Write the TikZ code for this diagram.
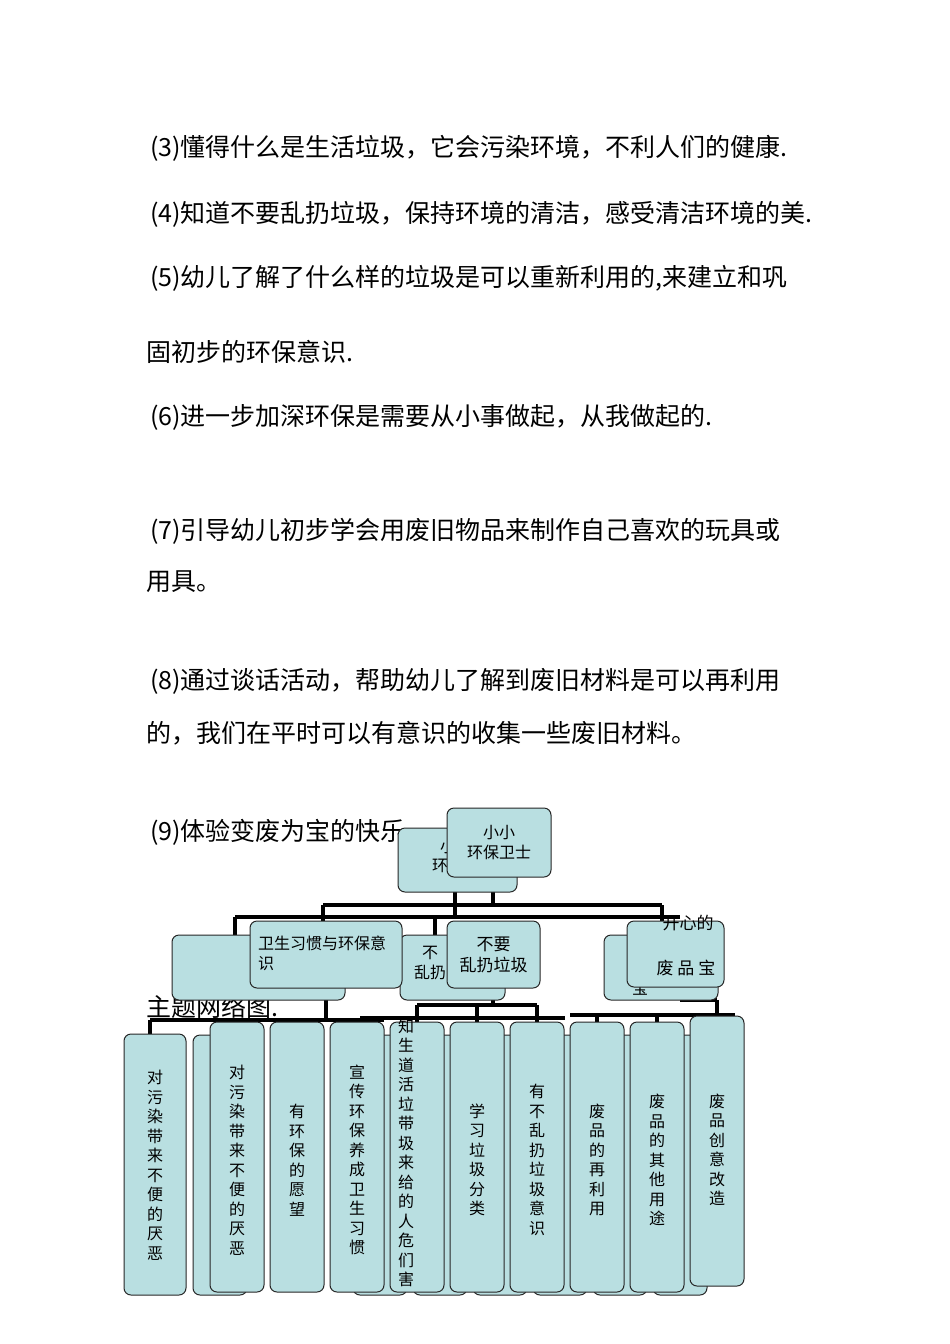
\documentclass[tikz,border=0pt]{standalone}
\usepackage{fontspec}
\setmainfont{Liberation Serif}
\newfontfamily\cjk{Noto Sans CJK SC}
\definecolor{boxc}{HTML}{B9DFE1}
\begin{document}
\begin{tikzpicture}[x=1pt,y=-1pt,
  bx/.style={draw=black!85,fill=boxc,rounded corners=7pt,line width=1pt,inner sep=0pt},
  body/.style={anchor=west,inner sep=0pt,font=\cjk\fontsize{25}{28}\selectfont},
  lab/.style={inner sep=0pt,align=center,font=\cjk\fontsize{16}{19.5}\selectfont},
  ln/.style={line width=3.5pt}]
\useasboundingbox (0,0) rectangle (950,1344);
% body text
\node[body] (t3) at (150,148) {(3)懂得什么是生活垃圾，它会污染环境，不利人们的健康.};
\node[body] (t4) at (150,214) {(4)知道不要乱扔垃圾，保持环境的清洁，感受清洁环境的美.};
\node[body] (t5) at (150,278) {(5)幼儿了解了什么样的垃圾是可以重新利用的,来建立和巩};
\node[body] (t5b) at (146,352) {固初步的环保意识.};
\node[body] (t6) at (150,417) {(6)进一步加深环保是需要从小事做起，从我做起的.};
\node[body] (t7) at (150,531) {(7)引导幼儿初步学会用废旧物品来制作自己喜欢的玩具或};
\node[body] (t7b) at (146,582) {用具。};
\node[body] (t8) at (150,681) {(8)通过谈话活动，帮助幼儿了解到废旧材料是可以再利用};
\node[body] (t8b) at (146,733) {的，我们在平时可以有意识的收集一些废旧材料。};
\node[body] (t9) at (150,832) {(9)体验变废为宝的快乐};
\node[body] (t10) at (146,1007) {主题网络图.};
% connectors (drawn first)
\draw[ln] (493,877) -- (493,905) (323,905) -- (662,905) (323,905) -- (323,921) (662,905)--(662,921);
\draw[ln] (455,892) -- (455,917) (235,917) -- (680,917) (235,917)--(235,935) (435,917)--(435,935);
\draw[ln] (326,988) -- (326,1020) (150,1020) -- (384,1020) (150,1020)--(150,1034) (237,1020)--(237,1022) (297,1020)--(297,1022) (357,1020)--(357,1022);
\draw[ln] (493,988) -- (493,1005) (360,1018) -- (565,1018) (417,1005)--(417,1022) (477,1005)--(477,1022) (537,1005)--(537,1022) (417,1005)--(537,1005);
\draw[ln] (680,987) -- (680,1000) (570,1015) -- (735,1015) (597,1015)--(597,1022) (657,1015)--(657,1022) (717,1000)--(717,1016) (680,1000)--(717,1000);
% ghost boxes
\node[bx,minimum width=119pt,minimum height=64pt] (g0) at (457.5,860) {};
\node[lab] at (448,856) {小\\环保};
\node[bx,minimum width=173pt,minimum height=65pt] (g1) at (258.5,967.5) {};
\node[bx,minimum width=105pt,minimum height=65pt] (g2) at (452.5,967.5) {};
\node[lab] at (430,963) {不\\乱扔};
\node[bx,minimum width=114pt,minimum height=65pt] (g3) at (661,967.5) {};
\node[lab] at (640,988) {宝};
\foreach \x in {193,353,413,473,533,593,653}{
  \node[bx,minimum width=54pt,minimum height=260pt] at (\x+27,1165) {};}
% root
\node[bx,minimum width=104pt,minimum height=69pt,lab] (root) at (499,842.5) {小小\\环保卫士};
% level 2
\node[bx,minimum width=152pt,minimum height=67pt] (A) at (326,954.5) {};
\node[lab,anchor=north west,align=left,text width=140pt] at (258,936) {卫生习惯与环保意\\识};
\node[bx,minimum width=93pt,minimum height=67pt,lab,font=\cjk\fontsize{17}{21}\selectfont] (B) at (493.5,954.5) {不要\\乱扔垃圾};
\node[bx,minimum width=97pt,minimum height=66pt] (C) at (675.5,954) {};
\node[lab,font=\cjk\fontsize{17}{21}\selectfont] at (688,923) {开心的};
\node[lab,font=\cjk\fontsize{17}{21}\selectfont] at (686,968) {废 品 宝};
% level 3
\node[bx,minimum width=62pt,minimum height=261pt] (d1) at (155,1164.5) {};
\node[lab] at (155,1165) {对\\污\\染\\带\\来\\不\\便\\的\\厌\\恶};
\newcommand\leaf[3]{\node[bx,minimum width=54pt,minimum height=270pt] (#1) at (#2,1157) {};
  \node[lab] at (#2,1160) {#3};}
\leaf{d2}{237}{对\\污\\染\\带\\来\\不\\便\\的\\厌\\恶}
\leaf{d3}{297}{有\\环\\保\\的\\愿\\望}
\leaf{d4}{357}{宣\\传\\环\\保\\养\\成\\卫\\生\\习\\惯}
\node[bx,minimum width=54pt,minimum height=270pt] (d5) at (417,1157) {};
\node[lab] at (406,1153) {知\\生\\道\\活\\垃\\带\\圾\\来\\给\\的\\人\\危\\们\\害};
\leaf{d6}{477}{学\\习\\垃\\圾\\分\\类}
\leaf{d7}{537}{有\\不\\乱\\扔\\垃\\圾\\意\\识}
\leaf{d8}{597}{废\\品\\的\\再\\利\\用}
\leaf{d9}{657}{废\\品\\的\\其\\他\\用\\途}
\node[bx,minimum width=54pt,minimum height=270pt] (d10) at (717,1151) {};
\node[lab] at (717,1150) {废\\品\\创\\意\\改\\造};
\end{tikzpicture}
\end{document}
